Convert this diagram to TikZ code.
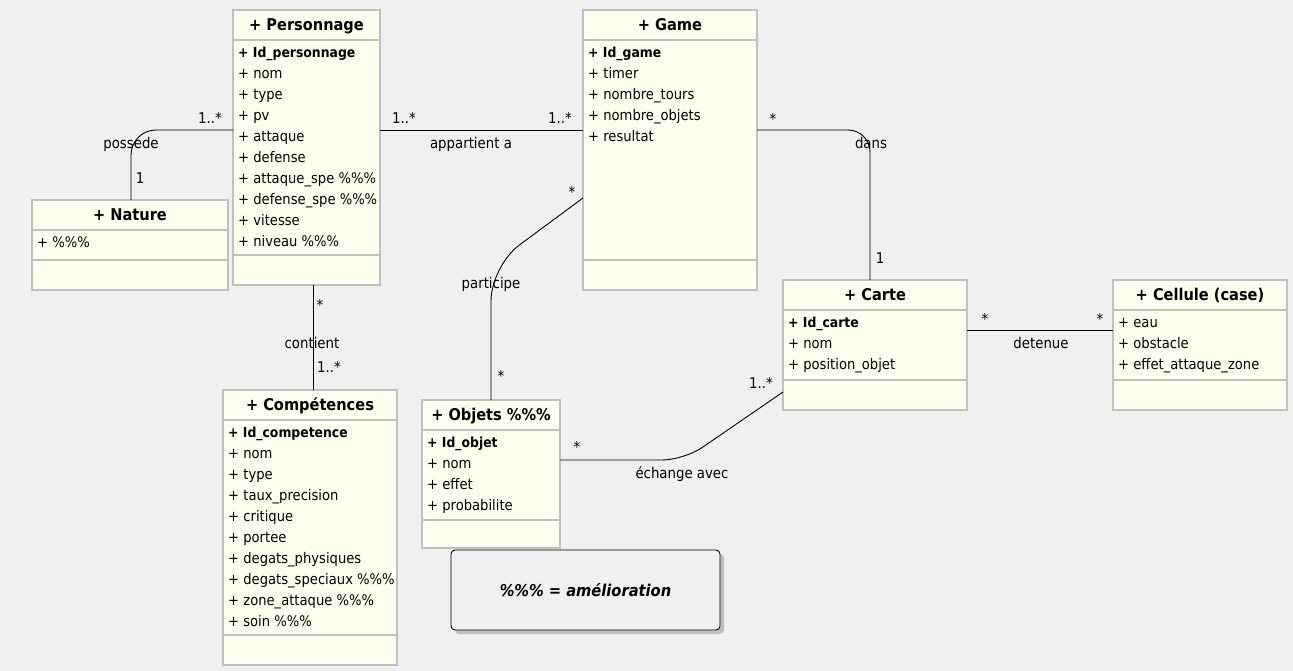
\documentclass[tikz,border=0pt]{standalone}
\usepackage{fontspec}
\setmainfont{DejaVu Sans Condensed}
\usetikzlibrary{positioning,shadows}

\definecolor{bgcol}{HTML}{F0F0F0}
\definecolor{classfill}{HTML}{FFFFF0}
\definecolor{classline}{HTML}{C0C0C0}

\tikzset{
  classbox/.style={draw=classline, line width=2pt, fill=classfill, anchor=north west, inner sep=0pt, outer sep=0pt},
  sepline/.style={draw=classline, line width=2pt},
  classtitle/.style={inner sep=0pt, text height=12pt, text depth=3.5pt, font=\fontsize{16.2}{18}\selectfont\bfseries},
  attr/.style={anchor=west, inner sep=0pt, text height=11pt, text depth=3.5pt, font=\fontsize{14.6}{17}\selectfont},
  keyattr/.style={attr, font=\fontsize{13.8}{16}\selectfont\bfseries},
  assoc/.style={draw=black, line width=0.9pt},
  mult/.style={inner sep=0pt, text height=11pt, text depth=3.5pt, font=\fontsize{14.8}{17}\selectfont},
  notebox/.style={draw=black, line width=0.9pt, fill=bgcol, rounded corners=4pt,
    minimum width=269pt, minimum height=80pt, inner sep=0pt,
    drop shadow={shadow xshift=4pt, shadow yshift=-4pt, fill=black!25, opacity=1},
    font=\fontsize{16.3}{18}\selectfont\bfseries\itshape},
}

\begin{document}
\begin{tikzpicture}[x=1pt, y=-1pt]
  \fill[bgcol] (0,0) rectangle (1293,671);
  \useasboundingbox (0,0) rectangle (1293,671);

  % class boxes
  \node[classbox, minimum width=147pt, minimum height=275pt] (perso) at (233,10) {};
  \node[classbox, minimum width=196pt, minimum height=90pt] (nature) at (32,200) {};
  \node[classbox, minimum width=174pt, minimum height=280pt] (game) at (583,10) {};
  \node[classbox, minimum width=184pt, minimum height=130pt] (carte) at (783,280) {};
  \node[classbox, minimum width=174pt, minimum height=130pt] (cellule) at (1113,280) {};
  \node[classbox, minimum width=174pt, minimum height=275pt] (comp) at (223,390) {};
  \node[classbox, minimum width=138pt, minimum height=148pt] (objets) at (422,400) {};

  % separators: title / attributes / operations
  \foreach \cls/\low in {perso/245, nature/60, game/250, carte/100, cellule/100, comp/245, objets/120} {
    \draw[sepline] ([yshift=-30pt]\cls.north west) -- ([yshift=-30pt]\cls.north east);
    \draw[sepline] ([yshift=-\low pt]\cls.north west) -- ([yshift=-\low pt]\cls.north east);
  }

  % titles
  \node[classtitle] (perso-t) at ([yshift=-16.5pt]perso.north) {+ Personnage};
  \node[classtitle] (nature-t) at ([yshift=-16.5pt]nature.north) {+ Nature};
  \node[classtitle] (game-t) at ([yshift=-16.5pt]game.north) {+ Game};
  \node[classtitle] (carte-t) at ([yshift=-16.5pt]carte.north) {+ Carte};
  \node[classtitle] (cellule-t) at ([yshift=-16.5pt]cellule.north) {+ Cellule (case)};
  \node[classtitle] (comp-t) at ([yshift=-16.5pt]comp.north) {+ Compétences};
  \node[classtitle] (objets-t) at ([yshift=-16.5pt]objets.north) {+ Objets \%\%\%};

  % attributes
  \node[keyattr] (perso-id) at ([xshift=5pt, yshift=-43.5pt]perso.north west) {+ Id\_personnage};
  \foreach \txt [count=\i] in {nom, type, pv, attaque, defense, attaque\_spe \%\%\%,
      defense\_spe \%\%\%, vitesse, niveau \%\%\%}
    \node[attr] (perso-a\i) at ([xshift=5pt, yshift={-(43.5+21*\i)*1pt}]perso.north west) {+ \txt};

  \node[attr] (nature-a1) at ([xshift=5pt, yshift=-43.5pt]nature.north west) {+ \%\%\%};

  \node[keyattr] (game-id) at ([xshift=5pt, yshift=-43.5pt]game.north west) {+ Id\_game};
  \foreach \txt [count=\i] in {timer, nombre\_tours, nombre\_objets, resultat}
    \node[attr] (game-a\i) at ([xshift=5pt, yshift={-(43.5+21*\i)*1pt}]game.north west) {+ \txt};

  \node[keyattr] (carte-id) at ([xshift=5pt, yshift=-43.5pt]carte.north west) {+ Id\_carte};
  \foreach \txt [count=\i] in {nom, position\_objet}
    \node[attr] (carte-a\i) at ([xshift=5pt, yshift={-(43.5+21*\i)*1pt}]carte.north west) {+ \txt};

  \foreach \txt [count=\i from 0] in {eau, obstacle, effet\_attaque\_zone}
    \node[attr] (cellule-a\i) at ([xshift=5pt, yshift={-(43.5+21*\i)*1pt}]cellule.north west) {+ \txt};

  \node[keyattr] (comp-id) at ([xshift=5pt, yshift=-43.5pt]comp.north west) {+ Id\_competence};
  \foreach \txt [count=\i] in {nom, type, taux\_precision, critique, portee, degats\_physiques,
      degats\_speciaux \%\%\%, zone\_attaque \%\%\%, soin \%\%\%}
    \node[attr] (comp-a\i) at ([xshift=5pt, yshift={-(43.5+21*\i)*1pt}]comp.north west) {+ \txt};

  \node[keyattr] (objets-id) at ([xshift=5pt, yshift=-43.5pt]objets.north west) {+ Id\_objet};
  \foreach \txt [count=\i] in {nom, effet, probabilite}
    \node[attr] (objets-a\i) at ([xshift=5pt, yshift={-(43.5+21*\i)*1pt}]objets.north west) {+ \txt};

  % associations
  \coordinate (bend-echange) at (684,460);
  \draw[assoc, rounded corners=25pt] ([yshift=-120pt]perso.north west) -| ([xshift=1pt]nature.north);
  \draw[assoc] ([yshift=-120pt]perso.north east) -- ([yshift=-120pt]game.north west);
  \draw[assoc, rounded corners=22pt] ([yshift=-120pt]game.north east) -| ([xshift=-5pt]carte.north);
  \draw[assoc] ([xshift=6.5pt]perso.south) -- ([xshift=3pt]comp.north);
  \draw[assoc, rounded corners=35pt] ([yshift=-188pt]game.north west) -- ([yshift=134pt]objets.north) -- (objets.north);
  \draw[assoc] ([yshift=-50pt]carte.north east) -- ([yshift=-50pt]cellule.north west);
  \draw[assoc, rounded corners=22pt] ([yshift=-60pt]objets.north east) -- (bend-echange) -- ([yshift=-112pt]carte.north west);

  % association names and multiplicities
  \node[mult] (m-poss-a) at (210,120) {1..*};
  \node[mult] (l-poss) at (131,145) {possede};
  \node[mult] (m-poss-b) at (140,180) {1};

  \node[mult] (m-app-a) at (404,120) {1..*};
  \node[mult] (m-app-b) at (560,120) {1..*};
  \node[mult] (l-app) at (471,145) {appartient a};

  \node[mult] (m-dans-a) at (773,121) {*};
  \node[mult] (l-dans) at (871,145) {dans};
  \node[mult] (m-dans-b) at (880,260) {1};

  \node[mult] (m-part-a) at (572,194) {*};
  \node[mult] (l-part) at (491,285) {participe};
  \node[mult] (m-part-b) at (501,378) {*};

  \node[mult] (m-cont-a) at (320,307) {*};
  \node[mult] (l-cont) at (312,345) {contient};
  \node[mult] (m-cont-b) at (329,369) {1..*};

  \node[mult] (m-det-a) at (985,321) {*};
  \node[mult] (m-det-b) at (1100,321) {*};
  \node[mult] (l-det) at (1041,345) {detenue};

  \node[mult] (m-ech-a) at (577,449) {*};
  \node[mult] (m-ech-b) at (761,385) {1..*};
  \node[mult] (l-ech) at (682,475) {échange avec};

  % legend
  \node[notebox] (note) at (585.5,590) {\%\%\% = amélioration};
\end{tikzpicture}
\end{document}
